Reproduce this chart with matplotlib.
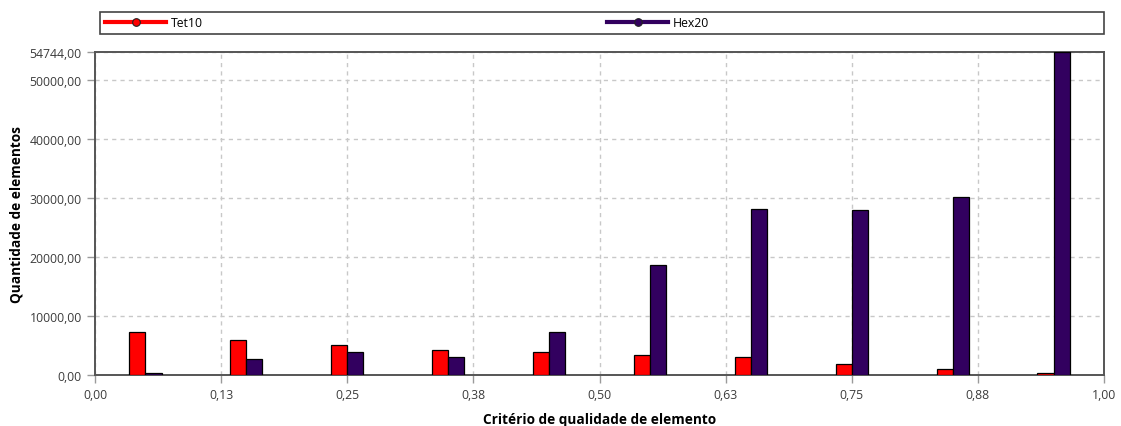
import numpy as np
import matplotlib
matplotlib.use('Agg')
import matplotlib.pyplot as plt
from matplotlib.lines import Line2D
from matplotlib.patches import Rectangle
from matplotlib.ticker import FuncFormatter
from decimal import Decimal, ROUND_HALF_UP

# distribuição da qualidade dos elementos por faixa (10 faixas de 0 a 1)
bin_centers = [0.05, 0.15, 0.25, 0.35, 0.45, 0.55, 0.65, 0.75, 0.85, 0.95]
tet10 = [7240, 5930, 5030, 4240, 3850, 3390, 3000, 1810, 1020, 390]
hex20 = [400, 2660, 3850, 3000, 7290, 18640, 28190, 28020, 30220, 54744]
x_ticks = [0, 0.125, 0.25, 0.375, 0.5, 0.625, 0.75, 0.875, 1.0]
y_ticks = [0, 10000, 20000, 30000, 40000, 50000, 54744]

RED = '#ff0000'
PURPLE = '#32005f'
GRAY = '#555555'

plt.rcParams['font.family'] = ['Open Sans', 'DejaVu Sans']

fig = plt.figure(figsize=(11.21, 4.27), dpi=100)
ax = fig.add_axes([95 / 1121, 1 - 376 / 427, (1104 - 95) / 1121, (376 - 53) / 427])

w = 0.016
ax.bar(np.array(bin_centers) - w / 2, tet10, width=w, color=RED, edgecolor='black', linewidth=0.9, zorder=3)
ax.bar(np.array(bin_centers) + w / 2, hex20, width=w, color=PURPLE, edgecolor='black', linewidth=0.9, zorder=3)

ax.set_xlim(0, 1)
ax.set_ylim(0, max(y_ticks))
ax.set_xticks(x_ticks)
ax.set_yticks(y_ticks)


def virgula(v, pos):
    # arredonda 0,125 para 0,13 (e não 0,12)
    s = str(Decimal(str(v)).quantize(Decimal('0.01'), rounding=ROUND_HALF_UP))
    return s.replace('.', ',')


ax.xaxis.set_major_formatter(FuncFormatter(virgula))
ax.yaxis.set_major_formatter(FuncFormatter(virgula))

ax.tick_params(axis='both', colors='#9a9a9a', labelcolor='#3c3c3c', labelsize=8.8, length=6, width=1)
ax.grid(True, linestyle=(0, (3, 3)), color='#c8c8c8', linewidth=1, zorder=0)
for s in ax.spines.values():
    s.set_color(GRAY)
    s.set_linewidth(1.4)

ax.set_xlabel('Critério de qualidade de elemento', fontsize=9.8, fontweight='bold', labelpad=8)
ax.set_ylabel('Quantidade de elementos', fontsize=9.8, fontweight='bold', labelpad=4)

# moldura da legenda acima do gráfico
fig.patches.append(Rectangle((100 / 1121, 1 - 34.5 / 427), (1104 - 100) / 1121, 21.5 / 427,
                             transform=fig.transFigure, facecolor='white',
                             edgecolor='#444444', linewidth=1.2))

series = [('Tet10', RED, 105), ('Hex20', PURPLE, 607)]
for nome, cor, x0 in series:
    h = Line2D([], [], color=cor, linewidth=3, marker='o', markersize=5.5,
               markerfacecolor=cor, markeredgecolor='#222222', markeredgewidth=0.8)
    fig.legend([h], [nome], loc='center left', bbox_to_anchor=(x0 / 1121, 1 - 23.5 / 427),
               bbox_transform=fig.transFigure, frameon=False, borderaxespad=0, borderpad=0,
               fontsize=8.8, handlelength=5, handletextpad=0.4)

fig.savefig('out.png', dpi=100)
